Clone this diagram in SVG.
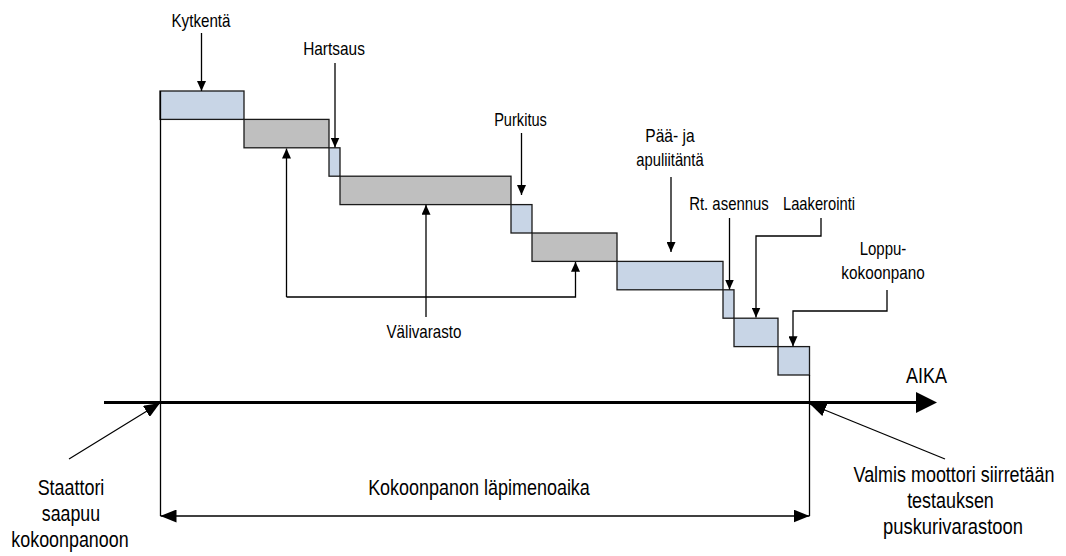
<svg xmlns="http://www.w3.org/2000/svg" width="1066" height="556" viewBox="0 0 1066 556">
  <style>
    .work { fill: #C8D5E6; stroke: #1a1a1a; stroke-width: 1.3; }
    .wait { fill: #BFBFBF; stroke: #1a1a1a; stroke-width: 1.3; }
    .lbl { font-family: "Liberation Sans Narrow", "Liberation Sans", Arial, sans-serif; font-size: 18.5px; fill: #000; text-anchor: middle; }
    .big { font-size: 22px; }
    .conn { fill: none; stroke: #000; stroke-width: 1.3; }
  </style>
  <defs>
    <marker id="ah" markerUnits="userSpaceOnUse" markerWidth="10" markerHeight="9" refX="10" refY="4.5" orient="auto">
      <path d="M0,0 L10,4.5 L0,9 z" fill="#000"/>
    </marker>
    <marker id="ahMid" markerUnits="userSpaceOnUse" markerWidth="16" markerHeight="13" refX="16" refY="6.5" orient="auto-start-reverse">
      <path d="M0,0 L16,6.5 L0,13 z" fill="#000"/>
    </marker>
  </defs>

  <rect width="1066" height="556" fill="#fff"/>

  <!-- process steps: work phases (blue) and storage phases (grey) -->
  <g id="step-kytkenta"><rect class="work" x="160" y="91" width="84" height="28.4"/></g>
  <g id="store-1"><rect class="wait" x="244" y="119.4" width="85" height="28.4"/></g>
  <g id="step-hartsaus"><rect class="work" x="329" y="147.8" width="11" height="28.4"/></g>
  <g id="store-2"><rect class="wait" x="340" y="176.2" width="171" height="28.4"/></g>
  <g id="step-purkitus"><rect class="work" x="511" y="204.6" width="21" height="28.4"/></g>
  <g id="store-3"><rect class="wait" x="532" y="233" width="85" height="28.4"/></g>
  <g id="step-liitanta"><rect class="work" x="617" y="261.4" width="106" height="28.4"/></g>
  <g id="step-rt"><rect class="work" x="723" y="289.8" width="11" height="28.4"/></g>
  <g id="step-laakerointi"><rect class="work" x="734" y="318.2" width="44" height="28.4"/></g>
  <g id="step-loppu"><rect class="work" x="778" y="346.6" width="31.5" height="28.4"/></g>

  <!-- connectors -->
  <g id="connectors">
    <path class="conn" d="M201.5,33 L201.5,91" marker-end="url(#ah)"/>
    <path class="conn" d="M335,63 L335,147.5" marker-end="url(#ah)"/>
    <path class="conn" d="M521.5,133 L521.5,195" marker-end="url(#ah)"/>
    <path class="conn" d="M671,177 L671,252" marker-end="url(#ah)"/>
    <path class="conn" d="M729.5,218 L729.5,289.5" marker-end="url(#ah)"/>
    <path class="conn" d="M821,218 L821,236 L756,236 L756,317.5" marker-end="url(#ah)"/>
    <path class="conn" d="M887,290 L887,311 L793,311 L793,346.3" marker-end="url(#ah)"/>
    <path class="conn" d="M426,317 L426,204.8" marker-end="url(#ah)"/>
    <path class="conn" d="M286.5,297 L286.5,148.5" marker-end="url(#ah)"/>
    <path class="conn" d="M286.5,297 L575.5,297 L575.5,261.8" marker-end="url(#ah)"/>
    <!-- time axis -->
    <path d="M104,402.5 L918,402.5" stroke="#000" stroke-width="3.2" fill="none"/>
    <path d="M916,392 L937,402.5 L916,413 z" fill="#000"/>
    <!-- lead time span -->
    <path class="conn" d="M160.5,91 L160.5,516"/>
    <path class="conn" d="M809.5,375 L809.5,516"/>
    <path class="conn" d="M160.5,516 L809.5,516" marker-start="url(#ahMid)" marker-end="url(#ahMid)"/>
    <!-- entry and exit pointers -->
    <path class="conn" d="M69,459 L160,403" marker-end="url(#ahMid)"/>
    <path class="conn" d="M945,459 L810,404" marker-end="url(#ahMid)"/>
  </g>

  <!-- labels -->
  <g id="label-kytkenta"><text class="lbl" x="201" y="27" textLength="59" lengthAdjust="spacingAndGlyphs">Kytkentä</text></g>
  <g id="label-hartsaus"><text class="lbl" x="334" y="55" textLength="61.7" lengthAdjust="spacingAndGlyphs">Hartsaus</text></g>
  <g id="label-purkitus"><text class="lbl" x="520.5" y="126" textLength="52.7" lengthAdjust="spacingAndGlyphs">Purkitus</text></g>
  <g id="label-liitanta">
    <text class="lbl" x="670" y="142" textLength="49.3" lengthAdjust="spacingAndGlyphs">Pää- ja</text>
    <text class="lbl" x="670" y="166" textLength="67.3" lengthAdjust="spacingAndGlyphs">apuliitäntä</text>
  </g>
  <g id="label-rt"><text class="lbl" x="729" y="210" textLength="79.7" lengthAdjust="spacingAndGlyphs">Rt. asennus</text></g>
  <g id="label-laakerointi"><text class="lbl" x="819" y="210" textLength="72" lengthAdjust="spacingAndGlyphs">Laakerointi</text></g>
  <g id="label-loppu">
    <text class="lbl" x="883" y="255" textLength="46.7" lengthAdjust="spacingAndGlyphs">Loppu-</text>
    <text class="lbl" x="883" y="279" textLength="83.3" lengthAdjust="spacingAndGlyphs">kokoonpano</text>
  </g>
  <g id="label-valivarasto"><text class="lbl" x="424" y="338" textLength="75" lengthAdjust="spacingAndGlyphs">Välivarasto</text></g>
  <g id="label-aika"><text class="lbl big" x="926.5" y="383" textLength="41" lengthAdjust="spacingAndGlyphs">AIKA</text></g>
  <g id="label-lapimeno"><text class="lbl big" x="479" y="495" textLength="221.7" lengthAdjust="spacingAndGlyphs">Kokoonpanon läpimenoaika</text></g>
  <g id="label-staattori">
    <text class="lbl big" x="71" y="495" textLength="66.7" lengthAdjust="spacingAndGlyphs">Staattori</text>
    <text class="lbl big" x="71" y="521" textLength="58.3" lengthAdjust="spacingAndGlyphs">saapuu</text>
    <text class="lbl big" x="70" y="547" textLength="117.3" lengthAdjust="spacingAndGlyphs">kokoonpanoon</text>
  </g>
  <g id="label-valmis">
    <text class="lbl big" x="954" y="482" textLength="201" lengthAdjust="spacingAndGlyphs">Valmis moottori siirretään</text>
    <text class="lbl big" x="950.5" y="508" textLength="86.7" lengthAdjust="spacingAndGlyphs">testauksen</text>
    <text class="lbl big" x="953" y="534" textLength="140" lengthAdjust="spacingAndGlyphs">puskurivarastoon</text>
  </g>
</svg>
